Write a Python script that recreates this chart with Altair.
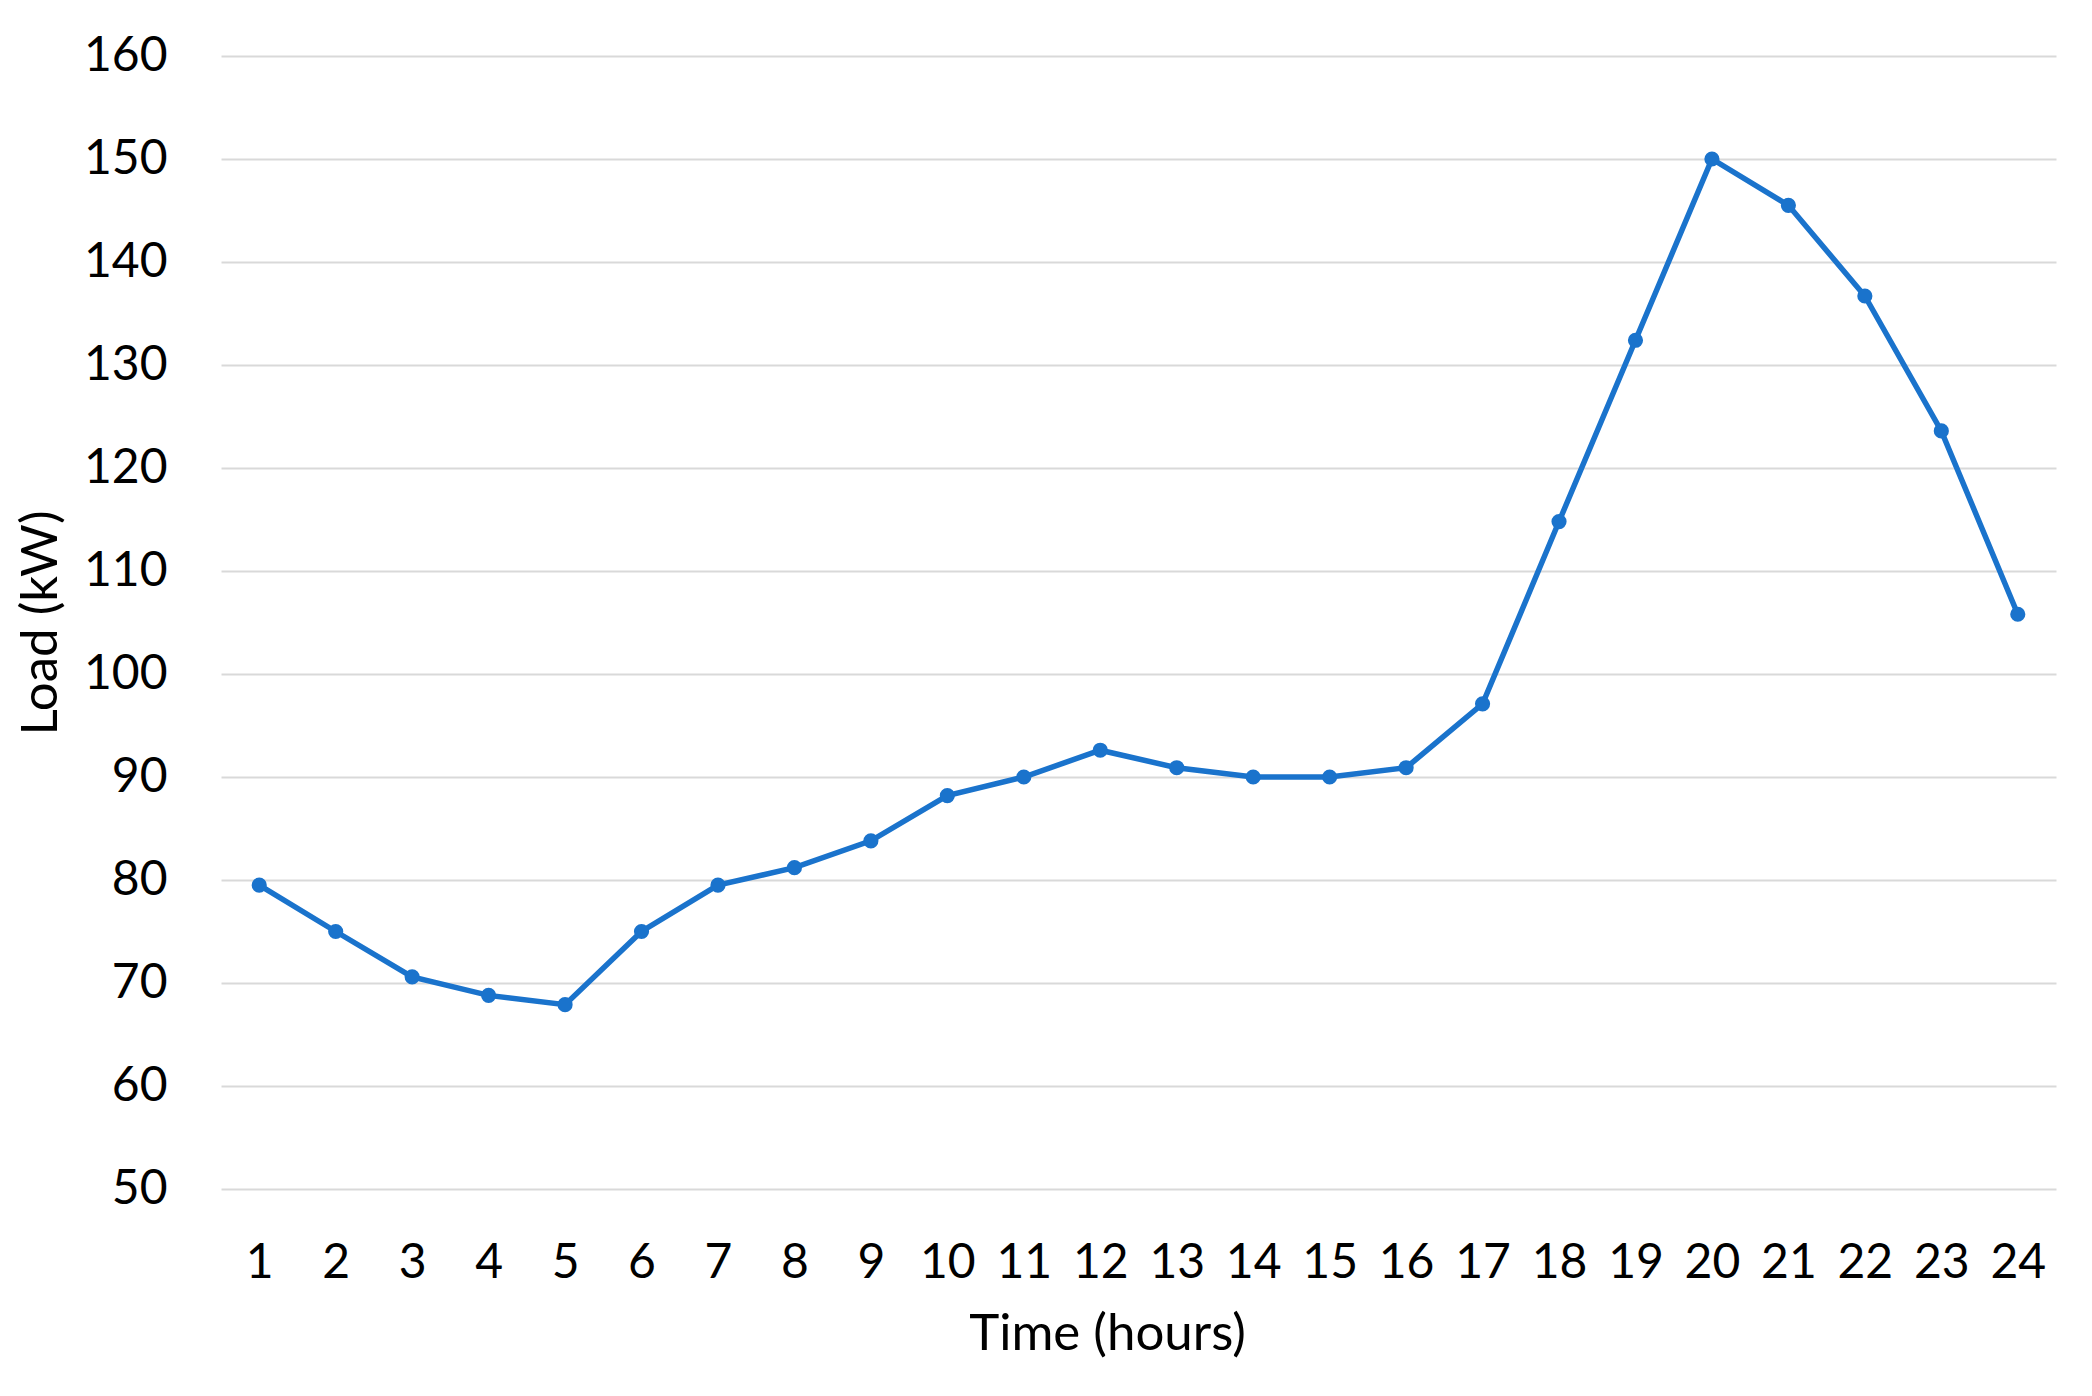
import altair as alt
import pandas as pd

hours = list(range(1, 25))
load_kw = [79.5, 75.0, 70.6, 68.8, 67.9, 75.0, 79.5, 81.2, 83.8, 88.2, 90.0, 92.6,
           90.9, 90.0, 90.0, 90.9, 97.1, 114.8, 132.4, 150.0, 145.5, 136.7, 123.6, 105.8]
y_ticks = [50, 60, 70, 80, 90, 100, 110, 120, 130, 140, 150, 160]

df = pd.DataFrame({"hour": hours, "load": load_kw})

FONT = "Lato"
COLOR = "#1a73cc"

base = alt.Chart(df).encode(
    x=alt.X("hour:O", sort=hours,
            scale=alt.Scale(type="point", padding=0.5),
            axis=alt.Axis(title="Time (hours)", labelAngle=0, grid=False, domain=False,
                          ticks=False, labelFont=FONT, labelFontSize=48, labelColor="#000000",
                          labelPadding=50, titleFont=FONT, titleFontSize=51,
                          titleFontWeight="normal", titleColor="#000000", titlePadding=22,
                          titleX=886)),
    y=alt.Y("load:Q", scale=alt.Scale(domain=[50, 160], nice=False, zero=False),
            axis=alt.Axis(title="Load (kW)", values=y_ticks, grid=True, gridColor="#d9d9d9",
                          gridWidth=2, domain=False, ticks=False, labelFont=FONT,
                          labelFontSize=48, labelColor="#000000", labelPadding=54,
                          titleFont=FONT, titleFontSize=51, titleFontWeight="normal",
                          titleColor="#000000", titlePadding=16)),
)

line = base.mark_line(color=COLOR, strokeWidth=5.5)
pts = base.mark_circle(color=COLOR, size=230, opacity=1)

chart = (line + pts).properties(
    width=1835, height=1133,
    background="white",
    autosize=alt.AutoSizeParams(type="none"),
    padding={"left": 213, "top": 48, "right": 28, "bottom": 199},
).configure_view(stroke=None)

chart.save("out.html", embed_options={"renderer": "svg", "actions": False})
